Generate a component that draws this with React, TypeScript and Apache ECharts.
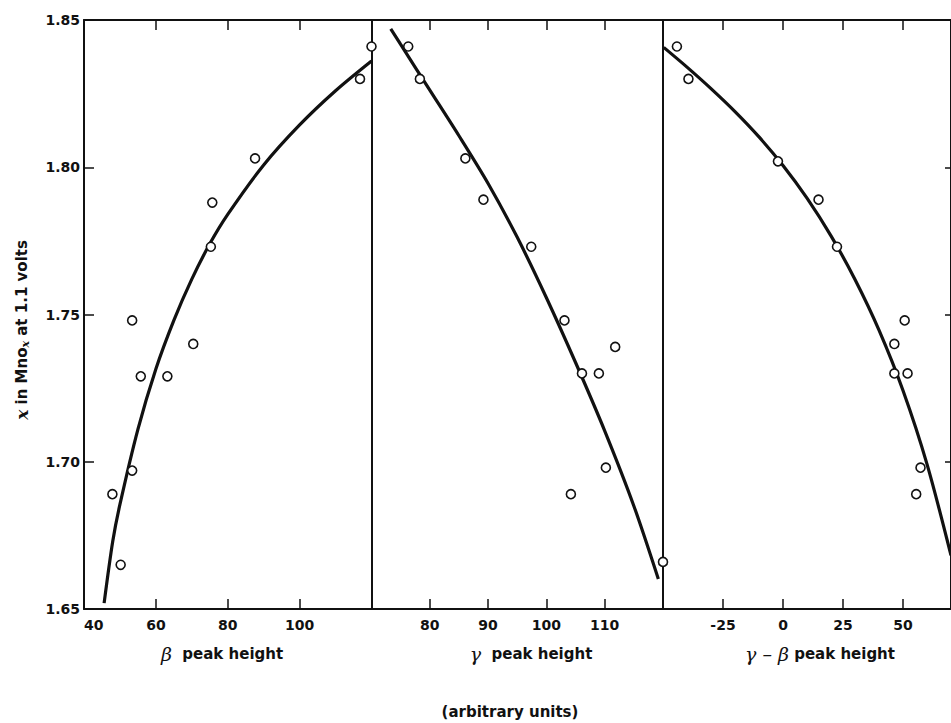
import React, { useEffect, useRef } from "react";
import * as echarts from "echarts";

// Panel 1: beta peak height
const betaPointsX = [120, 116.8, 87.6, 75.7, 75.3, 53.4, 70.4, 55.8, 63.2, 53.4, 47.9, 50.2];
const betaPointsY = [1.841, 1.830, 1.803, 1.788, 1.773, 1.748, 1.740, 1.729, 1.729, 1.697, 1.689, 1.665];
const betaCurveX = [45.6, 48, 50, 55, 60, 65, 70, 75, 80, 90, 100, 110, 120];
const betaCurveY = [1.652, 1.673, 1.6855, 1.711, 1.7315, 1.748, 1.762, 1.774, 1.784, 1.8008, 1.8144, 1.826, 1.8361];

// Panel 2: gamma peak height
const gammaPointsX = [76.3, 78.3, 86.1, 89.2, 97.4, 103.1, 111.8, 106.1, 109.0, 110.2, 104.2, 120];
const gammaPointsY = [1.841, 1.830, 1.803, 1.789, 1.773, 1.748, 1.739, 1.730, 1.730, 1.698, 1.689, 1.666];
const gammaCurveX = [73.3, 75, 80, 85, 90, 95, 100, 105, 110, 115, 119.2];
const gammaCurveY = [1.847, 1.8417, 1.8262, 1.8107, 1.7945, 1.7762, 1.7557, 1.7337, 1.7105, 1.685, 1.6602];

// Panel 3: gamma - beta peak height
const diffPointsX = [-44.2, -39.4, -2.1, 14.8, 22.5, 50.7, 46.4, 46.4, 51.9, 57.3, 55.5];
const diffPointsY = [1.841, 1.830, 1.802, 1.789, 1.773, 1.748, 1.740, 1.730, 1.730, 1.698, 1.689];
const diffCurveX = [-49.7, -40, -30, -20, -10, 0, 10, 20, 30, 40, 50, 60, 70];
const diffCurveY = [1.8407, 1.834, 1.8267, 1.8189, 1.8103, 1.8006, 1.7895, 1.7767, 1.7619, 1.7447, 1.7242, 1.6992, 1.6682];

// Axis ranges
const yMin = 1.65;
const yMax = 1.85;
const yStep = 0.05;
const betaRange = [40, 120, 20];
const gammaRange = [70, 120, 10];
const diffRange = [-50, 70, 25];

const FONT = "DejaVu Sans";
const INK = "#111";

const zip = (xs: number[], ys: number[]) => xs.map((x, i) => [x, ys[i]]);

export default function App() {
  const ref = useRef<HTMLDivElement>(null);
  useEffect(() => {
    if (!ref.current) return;
    const chart = echarts.init(ref.current, null, { renderer: "svg" });
    const top = 20;
    const height = 589;
    const grids = [
      { left: 84, top, width: 287.5, height },
      { left: 371.5, top, width: 291.5, height },
      { left: 663, top, width: 289.3, height },
    ];
    const ranges = [betaRange, gammaRange, diffRange];
    const lineStyle = { color: INK, width: 2 };
    const xAxes: any[] = [];
    ranges.forEach((r, i) => {
      xAxes.push({
        type: "value",
        gridIndex: i,
        position: "bottom",
        min: r[0],
        max: r[1],
        interval: r[2],
        axisLine: { show: true, lineStyle },
        axisTick: { show: true, inside: true, length: 10, lineStyle: { color: INK, width: 1.5 } },
        splitLine: { show: false },
        axisLabel: {
          show: true,
          margin: 9,
          fontFamily: FONT,
          fontSize: 14,
          fontWeight: "bold",
          color: INK,
          showMinLabel: i === 0,
          showMaxLabel: false,
          alignMinLabel: i === 0 ? "left" : undefined,
        },
      });
      xAxes.push({
        type: "value",
        gridIndex: i,
        position: "top",
        min: r[0],
        max: r[1],
        interval: r[2],
        axisLine: { show: true, lineStyle },
        axisTick: { show: true, inside: true, length: 10, lineStyle: { color: INK, width: 1.5 } },
        splitLine: { show: false },
        axisLabel: { show: false },
      });
    });
    const yBase = {
      type: "value",
      min: yMin,
      max: yMax,
      interval: yStep,
      splitLine: { show: false },
      axisLine: { show: true, onZero: false, lineStyle },
    };
    const yAxes: any[] = [
      {
        ...yBase,
        gridIndex: 0,
        position: "left",
        axisTick: { show: true, inside: true, length: 10, lineStyle: { color: INK, width: 1.5 } },
        axisLabel: {
          show: true,
          margin: 4,
          fontFamily: FONT,
          fontSize: 14,
          fontWeight: "bold",
          color: INK,
          formatter: (v: number) => v.toFixed(2),
        },
      },
      {
        ...yBase,
        gridIndex: 1,
        position: "left",
        axisTick: { show: false },
        axisLabel: { show: false },
      },
      {
        ...yBase,
        gridIndex: 2,
        position: "left",
        axisTick: { show: false },
        axisLabel: { show: false },
      },
      {
        ...yBase,
        gridIndex: 2,
        position: "right",
        axisTick: { show: true, inside: true, length: 6, lineStyle: { color: INK, width: 1.5 } },
        axisLabel: { show: false },
      },
    ];
    const scatter = (xi: number, yi: number, data: number[][]) => ({
      type: "scatter",
      xAxisIndex: xi,
      yAxisIndex: yi,
      data,
      symbol: "circle",
      symbolSize: 9,
      clip: false,
      z: 5,
      itemStyle: { color: "#fff", borderColor: INK, borderWidth: 1.6, opacity: 1 },
    });
    const curve = (xi: number, yi: number, data: number[][]) => ({
      type: "line",
      xAxisIndex: xi,
      yAxisIndex: yi,
      data,
      smooth: 0.3,
      showSymbol: false,
      symbol: "none",
      z: 4,
      lineStyle: { color: INK, width: 3.2 },
    });
    const nameStyle = (text: string, x: number, y: number) => ({
      type: "text",
      x,
      y,
      style: {
        text,
        fontFamily: FONT,
        fontSize: 15,
        fontWeight: "bold",
        fill: INK,
        align: "center",
        verticalAlign: "middle",
        rich: {
          g: { fontFamily: "DejaVu Serif", fontStyle: "italic", fontSize: 19, fill: INK },
          t: { fontFamily: FONT, fontSize: 15, fontWeight: "bold", fill: INK },
        },
      },
    });
    chart.setOption({
      animation: false,
      backgroundColor: "#fff",
      grid: grids,
      xAxis: xAxes,
      yAxis: yAxes,
      series: [
        curve(0, 0, zip(betaCurveX, betaCurveY)),
        scatter(0, 0, zip(betaPointsX, betaPointsY)),
        curve(2, 1, zip(gammaCurveX, gammaCurveY)),
        scatter(2, 1, zip(gammaPointsX, gammaPointsY)),
        curve(4, 2, zip(diffCurveX, diffCurveY)),
        scatter(4, 2, zip(diffPointsX, diffPointsY)),
      ],
      graphic: [
        nameStyle("{g|β}{t|  peak height}", 222, 654),
        nameStyle("{g|γ}{t|  peak height}", 531, 654),
        nameStyle("{g|γ – β}{t| peak height}", 820, 654),
        {
          type: "text",
          x: 510,
          y: 712,
          style: {
            text: "(arbitrary units)",
            fontFamily: FONT,
            fontSize: 15,
            fontWeight: "bold",
            fill: INK,
            align: "center",
            verticalAlign: "middle",
          },
        },
        {
          type: "text",
          x: 22,
          y: 330,
          rotation: Math.PI / 2,
          style: {
            text: "{i|x}{t| in Mno}{s|x}{t| at 1.1 volts}",
            fontFamily: FONT,
            fontSize: 15,
            fontWeight: "bold",
            fill: INK,
            align: "center",
            verticalAlign: "middle",
            rich: {
              i: { fontFamily: "DejaVu Serif", fontStyle: "italic", fontWeight: "bold", fontSize: 17, fill: INK },
              t: { fontFamily: FONT, fontSize: 15, fontWeight: "bold", fill: INK },
              s: { fontFamily: "DejaVu Serif", fontStyle: "italic", fontWeight: "bold", fontSize: 11, fill: INK, padding: [6, 0, 0, 0] },
            },
          },
        },
      ],
    });
    return () => chart.dispose();
  }, []);
  return (
    <div
      ref={ref}
      style={{ position: "fixed", left: 0, top: 0, width: 951, height: 723, background: "#fff" }}
    />
  );
}
